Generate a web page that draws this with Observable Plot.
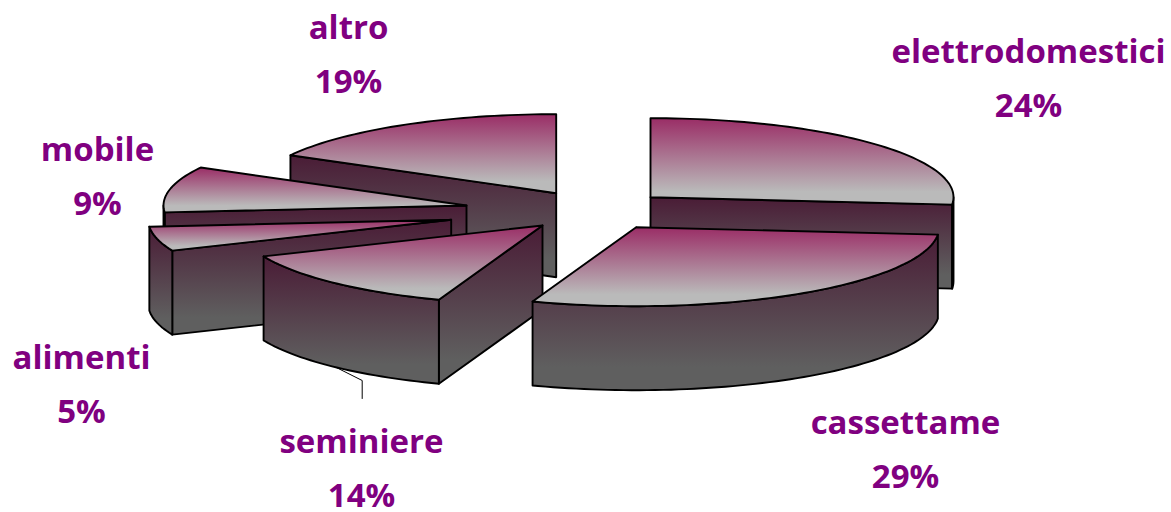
<!DOCTYPE html>
<html>
<head>
<meta charset="utf-8">
<script src="https://cdn.jsdelivr.net/npm/d3@7"></script>
<script src="https://cdn.jsdelivr.net/npm/@observablehq/plot@0.6"></script>
<style>html,body{margin:0;padding:0;background:#fff}svg{display:block}</style>
</head>
<body>
<div id="chart"></div>
<script>
// Data
const categories = ["elettrodomestici", "cassettame", "seminiere", "alimenti", "mobile", "altro"];
const shares = [24, 29, 14, 5, 9, 19];
// Edge of each slice, degrees clockwise from 12 o'clock
const edgeAngles = [0, 95.4, 200, 247, 265, 298.7, 360];

// Layout (separate from the data)
const W = 1171, H = 512;
const hubX = [650, 635.7, 542, 450.7, 466, 555.7];
const hubY = [196.7, 226.7, 225, 219.3, 205, 192.7];
const labelX = [1028, 905, 361, 81, 97, 348];
const labelY = [72, 443, 462, 378, 170, 48];
const RX = 303, RY = 79, DEPTH = 84;
const paintOrder = [0, 5, 4, 3, 2, 1];
const leaderSlice = 2;
const leaderAngle = 223;
const leaderElbow = [361.7, 380], leaderEnd = [361.7, 398];
const edgeStyle = {x: "x", y: "y", stroke: "#000", strokeWidth: 1.9, strokeLinejoin: "round"};

const rim = (i, deg, drop = 0) => {
  const t = deg * Math.PI / 180;
  return {x: hubX[i] + RX * Math.sin(t), y: hubY[i] - RY * Math.cos(t) + drop};
};
const arc = (i, a, b, drop = 0) => {
  const pts = [];
  for (let d = a; d < b; d += 1.5) pts.push(rim(i, d, drop));
  pts.push(rim(i, b, drop));
  return pts;
};
const hub = (i, drop = 0) => ({x: hubX[i], y: hubY[i] + drop});
const closed = (pts) => [...pts, pts[0]];

function sliceMarks(i) {
  const a = edgeAngles[i], b = edgeAngles[i + 1];
  const marks = [];
  const side = (pts) => marks.push(Plot.line(closed(pts), {...edgeStyle, fill: "url(#sideFade)"}));
  const radial = (deg) => side([hub(i), rim(i, deg), rim(i, deg, DEPTH), hub(i, DEPTH)]);
  if (Math.sin(a * Math.PI / 180) < -1e-6) radial(a);
  if (Math.sin(b * Math.PI / 180) > 1e-6) radial(b);
  const lo = Math.max(a, 90), hi = Math.min(b, 270);
  if (lo < hi) side([...arc(i, lo, hi), ...arc(i, lo, hi, DEPTH).reverse()]);
  marks.push(Plot.line(closed([hub(i), ...arc(i, a, b)]), {...edgeStyle, fill: "url(#topFade)"}));
  return marks;
}

const gradients = () => {
  const g = document.createElementNS("http://www.w3.org/2000/svg", "defs");
  g.innerHTML = `
    <linearGradient id="topFade" x1="0" y1="0" x2="0" y2="1">
      <stop offset="0" stop-color="#9a2d66"/><stop offset="0.85" stop-color="#bababa"/><stop offset="1" stop-color="#bababa"/>
    </linearGradient>
    <linearGradient id="sideFade" x1="0" y1="0" x2="0" y2="1">
      <stop offset="0" stop-color="#4a1c36"/><stop offset="0.85" stop-color="#5f5f5f"/><stop offset="1" stop-color="#5f5f5f"/>
    </linearGradient>`;
  return g;
};

const labels = categories.map((name, i) => ({
  text: `${name}\n${shares[i]}%`, x: labelX[i], y: labelY[i]
}));
const leader = [rim(leaderSlice, leaderAngle, DEPTH),
  {x: leaderElbow[0], y: leaderElbow[1]}, {x: leaderEnd[0], y: leaderEnd[1]}];

const chart = Plot.plot({
  width: W, height: H, margin: 0,
  x: {domain: [0, W], range: [0, W], axis: null},
  y: {domain: [0, H], range: [0, H], axis: null},
  style: {background: "#fff"},
  marks: [
    gradients,
    Plot.line(leader, {x: "x", y: "y", stroke: "#000", strokeWidth: 1}),
    ...paintOrder.flatMap(sliceMarks),
    Plot.text(labels, {
      x: "x", y: "y", text: "text", fill: "#800080",
      fontFamily: "'Open Sans', sans-serif", fontWeight: 700, fontSize: 33, lineHeight: 1.66
    })
  ]
});
document.getElementById("chart").append(chart);
</script>
</body>
</html>
